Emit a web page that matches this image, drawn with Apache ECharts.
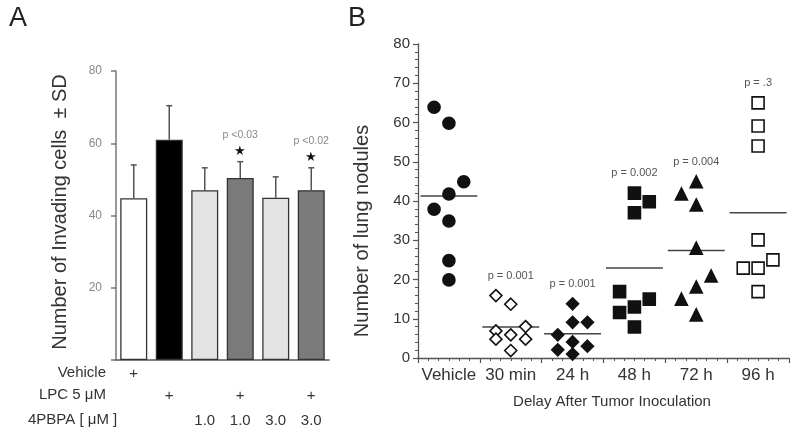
<!DOCTYPE html>
<html><head><meta charset="utf-8">
<script src="https://cdn.jsdelivr.net/npm/echarts@6/dist/echarts.min.js"></script>
<style>html,body{margin:0;padding:0;background:#fff}#c{width:800px;height:438px}</style>
</head><body><div id="c"></div>
<script>
// ---------- Panel A data ----------
const treatments = ['Vehicle', 'LPC', '4PBPA 1.0', 'LPC + 4PBPA 1.0', '4PBPA 3.0', 'LPC + 4PBPA 3.0'];
const invadingMean = [44.8, 61.0, 47.0, 50.4, 44.9, 47.0];
const invadingSD = [9.2, 9.4, 6.2, 4.5, 5.8, 6.2];
const barColors = ['#ffffff', '#000000', '#e3e3e3', '#7a7a7a', '#e3e3e3', '#7a7a7a'];
const pLabelsA = ['', '', '', 'p <0.03', '', 'p <0.02'];
const starsA = ['', '', '', '\u2605', '', '\u2605'];
const vehicleRow = ['+', '', '', '', '', ''];
const lpcRow = ['', '+', '', '+', '', '+'];
const pbpaRow = ['', '', '1.0', '1.0', '3.0', '3.0'];
const rowLabels = ['Vehicle', 'LPC 5 \u03bcM', '4PBPA [ \u03bcM ]'];

// ---------- Panel B data ----------
const groups = ['Vehicle', '30 min', '24 h', '48 h', '72 h', '96 h'];
const vehicleNodules = [63.9, 59.8, 44.9, 41.8, 37.9, 34.9, 24.8, 19.9];
const vehicleCols    = [-1, 0, 1, 0, -1, 0, 0, 0];
const min30Nodules   = [15.9, 13.7, 6.9, 4.8, 5.9, 8.0, 4.8, 1.9];
const min30Cols      = [-1, 0, -1, -1, 0, 1, 1, 0];
const h24Nodules     = [13.8, 9.1, 9.1, 5.9, 4.1, 3.0, 2.1, 1.0];
const h24Cols        = [0, 0, 1, -1, 0, 1, -1, 0];
const h48Nodules     = [42.0, 39.8, 37.0, 16.9, 15.0, 13.0, 11.6, 7.9];
const h48Cols        = [0, 1, 0, -1, 1, 0, -1, 0];
const h72Nodules     = [44.9, 41.8, 39.0, 28.0, 20.9, 18.1, 15.0, 11.0];
const h72Cols        = [0, -1, 0, 0, 1, 0, -1, 0];
const h96Nodules     = [65.0, 59.1, 54.0, 30.1, 25.0, 22.9, 22.9, 16.9];
const h96Cols        = [0, 0, 0, 0, 1, -1, 0, 0];
const meanNodules = [41.3, 7.9, 6.2, 22.9, 27.4, 37.0];
const pLabelsB = ['', 'p = 0.001', 'p = 0.001', 'p = 0.002', 'p = 0.004', 'p = .3'];

const nodules = [vehicleNodules, min30Nodules, h24Nodules, h48Nodules, h72Nodules, h96Nodules];
const cols = [vehicleCols, min30Cols, h24Cols, h48Cols, h72Cols, h96Cols];
const COL_STEP = 0.24;
const FONT = '"Liberation Sans", Arial, Helvetica, sans-serif';

const symbolStyles = [
  { symbol: 'circle', color: '#111', border: '#111', size: 12 },
  { symbol: 'diamond', color: '#fff', border: '#111', size: 12 },
  { symbol: 'diamond', color: '#111', border: '#111', size: 12 },
  { symbol: 'rect', color: '#111', border: '#111', size: 12 },
  { symbol: 'triangle', color: '#111', border: '#111', size: 12 },
  { symbol: 'rect', color: '#fff', border: '#111', size: 12 }
];

const chart = echarts.init(document.getElementById('c'), null, { renderer: 'canvas' });

const rowAxis = (rows, offset, showLine) => ({
  type: 'category', gridIndex: 0, position: 'bottom', offset: offset,
  data: treatments,
  axisLine: { show: showLine, lineStyle: { color: '#555', width: 1.5 } },
  axisTick: { show: false },
  splitLine: { show: false },
  axisLabel: {
    interval: 0, margin: 6, fontSize: 15, color: '#333', fontFamily: FONT,
    formatter: (v, i) => rows[i]
  }
});

const scatterSeries = groups.map((g, gi) => ({
  type: 'scatter', xAxisIndex: 3, yAxisIndex: 1, name: g,
  symbol: symbolStyles[gi].symbol, symbolSize: symbolStyles[gi].size,
  itemStyle: { color: symbolStyles[gi].color, borderColor: symbolStyles[gi].border, borderWidth: 1.6, opacity: 1 },
  data: nodules[gi].map((v, i) => [gi + 0.5 + cols[gi][i] * COL_STEP, v]),
  z: 3
}));

const option = {
  backgroundColor: '#fff',
  animation: false,
  textStyle: { fontFamily: FONT },
  grid: [
    { left: 116, top: 71, width: 213, height: 289 },
    { left: 418, top: 44, width: 371, height: 314 }
  ],
  xAxis: [
    rowAxis(vehicleRow, 0, true),
    rowAxis(lpcRow, 22, false),
    rowAxis(pbpaRow, 47, false),
    {
      type: 'value', gridIndex: 1, position: 'bottom', min: 0, max: 6, interval: 1,
      axisLine: { show: true, lineStyle: { color: '#555', width: 1.3 } },
      axisTick: { show: true, length: 5, lineStyle: { color: '#555', width: 1.2 } },
      minorTick: { show: true, splitNumber: 6, length: 3, lineStyle: { color: '#555', width: 1 } },
      axisLabel: { show: false },
      splitLine: { show: false }
    },
    {
      type: 'category', gridIndex: 1, position: 'bottom', data: groups, boundaryGap: true,
      axisLine: { show: false }, axisTick: { show: false }, splitLine: { show: false },
      axisLabel: { interval: 0, margin: 9, fontSize: 17, color: '#333', fontFamily: FONT }
    }
  ],
  yAxis: [
    {
      type: 'value', gridIndex: 0, min: 0, max: 80, interval: 20,
      axisLine: { show: true, lineStyle: { color: '#777', width: 1.5 } },
      axisTick: { show: true, length: 5, lineStyle: { color: '#777', width: 1.5 } },
      splitLine: { show: false },
      axisLabel: { margin: 14, fontSize: 12, color: '#888', fontFamily: FONT, formatter: v => v === 0 ? '' : v }
    },
    {
      type: 'value', gridIndex: 1, min: 0, max: 80, interval: 10,
      axisLine: { show: true, lineStyle: { color: '#555', width: 1.3 } },
      axisTick: { show: true, length: 5, lineStyle: { color: '#555', width: 1.2 } },
      minorTick: { show: true, splitNumber: 5, length: 3, lineStyle: { color: '#555', width: 1 } },
      splitLine: { show: false },
      axisLabel: { margin: 8, fontSize: 15, color: '#333', fontFamily: FONT }
    }
  ],
  series: [
    {
      type: 'bar', xAxisIndex: 0, yAxisIndex: 0, barWidth: 27,
      data: invadingMean.map((v, i) => ({ value: v, itemStyle: { color: barColors[i] } })),
      itemStyle: { borderColor: '#333', borderWidth: 1.3 }
    },
    {
      type: 'custom', xAxisIndex: 0, yAxisIndex: 0, z: 4,
      data: invadingMean.map((m, i) => [i, m, invadingSD[i]]),
      renderItem: (params, api) => {
        const i = api.value(0);
        const base = api.coord([i, api.value(1)]);
        const top = api.coord([i, api.value(1) + api.value(2)]);
        const st = { stroke: '#555', lineWidth: 1.5 };
        return {
          type: 'group', children: [
            { type: 'line', shape: { x1: base[0], y1: base[1], x2: top[0], y2: top[1] }, style: st },
            { type: 'line', shape: { x1: top[0] - 3, y1: top[1], x2: top[0] + 3, y2: top[1] }, style: st },
            { type: 'text', style: { text: starsA[i], x: top[0], y: top[1] - 10, align: 'center', verticalAlign: 'middle', fill: '#111', font: '13px ' + FONT } },
            { type: 'text', style: { text: pLabelsA[i], x: top[0], y: top[1] - 27, align: 'center', verticalAlign: 'middle', fill: '#888', font: '10.5px ' + FONT } }
          ]
        };
      }
    },
    ...scatterSeries,
    {
      type: 'custom', xAxisIndex: 3, yAxisIndex: 1, z: 2,
      data: meanNodules.map((m, i) => [i, m]),
      renderItem: (params, api) => {
        const g = api.value(0);
        const m = api.value(1);
        const p1 = api.coord([g + 0.04, m]);
        const p2 = api.coord([g + 0.96, m]);
        const mx = Math.max.apply(null, nodules[g]);
        const pt = api.coord([g + 0.5, mx]);
        return {
          type: 'group', children: [
            { type: 'line', shape: { x1: p1[0], y1: p1[1], x2: p2[0], y2: p2[1] }, style: { stroke: '#444', lineWidth: 1.5 } },
            { type: 'text', style: { text: pLabelsB[g], x: pt[0], y: pt[1] - 20, align: 'center', verticalAlign: 'middle', fill: '#555', font: '11px ' + FONT } }
          ]
        };
      }
    }
  ],
  graphic: [
    { type: 'text', left: 9, top: 5, style: { text: 'A', font: '27px ' + FONT, fill: '#222' } },
    { type: 'text', left: 348, top: 5, style: { text: 'B', font: '27px ' + FONT, fill: '#222' } },
    { type: 'text', x: 60, y: 212, rotation: Math.PI / 2,
      style: { text: 'Number of Invading cells  \u00b1 SD', font: '20px ' + FONT, fill: '#333', align: 'center', verticalAlign: 'middle' } },
    { type: 'text', x: 362, y: 231, rotation: Math.PI / 2,
      style: { text: 'Number of lung nodules', font: '20px ' + FONT, fill: '#333', align: 'center', verticalAlign: 'middle' } },
    { type: 'text', x: 106, y: 373, style: { text: rowLabels[0], font: '15px ' + FONT, fill: '#333', align: 'right', verticalAlign: 'middle' } },
    { type: 'text', x: 106, y: 395, style: { text: rowLabels[1], font: '15px ' + FONT, fill: '#333', align: 'right', verticalAlign: 'middle' } },
    { type: 'text', x: 28, y: 420, style: { text: rowLabels[2], font: '15px ' + FONT, fill: '#333', align: 'left', verticalAlign: 'middle' } },
    { type: 'text', x: 612, y: 402, style: { text: 'Delay After Tumor Inoculation', font: '15px ' + FONT, fill: '#333', align: 'center', verticalAlign: 'middle' } }
  ]
};
chart.setOption(option);
</script>
</body></html>
